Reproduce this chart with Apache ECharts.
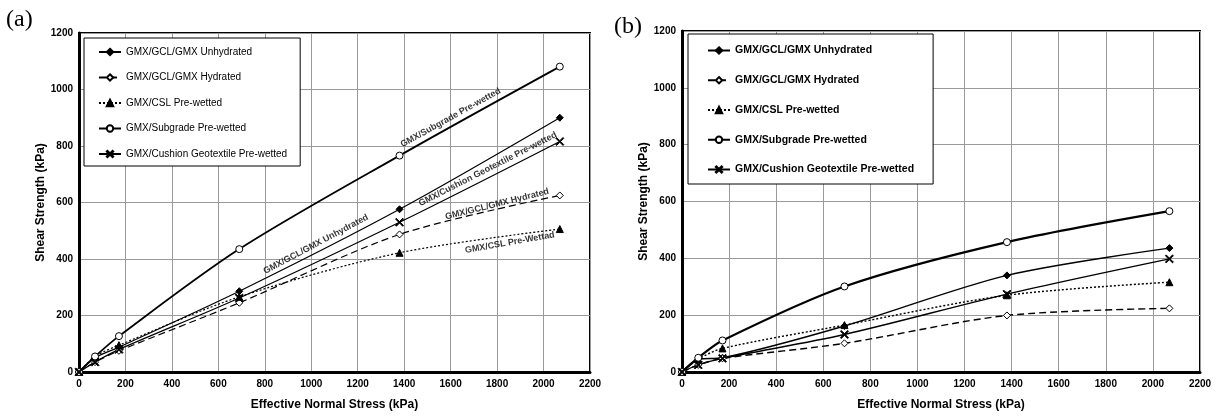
<!DOCTYPE html>
<html><head><meta charset="utf-8">
<script src="https://cdn.jsdelivr.net/npm/echarts@6/dist/echarts.min.js"></script>
<style>html,body{margin:0;padding:0;background:#fff}#c{width:1216px;height:416px}</style>
</head><body><div id="c"></div>
<script>
// ---- data ----
const seriesNames = ['GMX/GCL/GMX Unhydrated','GMX/GCL/GMX Hydrated','GMX/CSL Pre-wetted','GMX/Subgrade Pre-wetted','GMX/Cushion Geotextile Pre-wetted'];
const normalStress = [0, 69, 172, 690, 1380, 2070];
// panel (a)
const aUnhydrated = [0, 50, 88, 286, 576, 900];
const aHydrated   = [0, 35, 75, 245, 487, 625];
const aCSL        = [0, 55, 95, 266, 422, 506];
const aSubgrade   = [0, 55, 127, 435, 766, 1081];
const aCushion    = [0, 35, 80, 262, 530, 816];
// panel (b)
const bUnhydrated = [0, 45, 50, 162, 340, 436];
const bHydrated   = [0, 25, 48, 101, 199, 224];
const bCSL        = [0, 45, 83, 165, 270, 316];
const bSubgrade   = [0, 50, 111, 301, 457, 566];
const bCushion    = [0, 25, 48, 132, 274, 398];
const xTicks = [0,200,400,600,800,1000,1200,1400,1600,1800,2000,2200];
const yTicks = [0,200,400,600,800,1000,1200];
// annotations for panel (a): [text, x, y, angle]
const annoText  = ['GMX/Subgrade Pre-wetted','GMX/Cushion Geotextile Pre-wetted','GMX/GCL/GMX Unhydrated','GMX/GCL/GMX Hydrated','GMX/CSL Pre-Wettad'];
const annoX     = [1600, 1760, 1020, 1800, 1855];
const annoY     = [900, 718, 452, 594, 458];
const annoAngle = [29, 27, 28, 14, 10];

const FONT = 'Liberation Sans, Arial, sans-serif';
const X_PATH = 'path://M0,1L1,0L5,4L9,0L10,1L6,5L10,9L9,10L5,6L1,10L0,9L4,5Z';
const styles = [
  {symbol:'diamond', fill:'#000', type:'solid', w:1.2, size:7},
  {symbol:'diamond', fill:'#fff', type:[7,4], w:1.2, size:7},
  {symbol:'triangle', fill:'#000', type:[2,2], w:1.2, size:7},
  {symbol:'circle', fill:'#fff', type:'solid', w:1.8, size:7},
  {symbol:X_PATH, fill:'#000', type:'solid', w:1.2, size:8}
];
const dataA = [aUnhydrated,aHydrated,aCSL,aSubgrade,aCushion];
const dataB = [bUnhydrated,bHydrated,bCSL,bSubgrade,bCushion];

function mk(vals, i, gi, wb){
  const s = styles[i];
  return {
    type:'line', name:seriesNames[i], xAxisIndex:gi, yAxisIndex:gi,
    data: normalStress.map((x,k)=>[x, vals[k]]),
    smooth:0.3, symbol:s.symbol, symbolSize:s.size, showAllSymbol:true,
    lineStyle:{color:'#000', width:s.w*wb, type:s.type},
    itemStyle:{color:s.fill, borderColor:'#000', borderWidth:1},
    emphasis:{disabled:true}, z:3
  };
}
const series = [];
dataA.forEach((v,i)=>series.push(mk(v,i,0,1)));
dataB.forEach((v,i)=>series.push(mk(v,i,1,1.2)));
series.push({
  type:'scatter', name:'anno', xAxisIndex:0, yAxisIndex:0, symbolSize:1, silent:true,
  itemStyle:{color:'rgba(0,0,0,0)'},
  data: annoText.map((t,i)=>({value:[annoX[i], annoY[i]], name:t, label:{rotate:annoAngle[i]}})),
  label:{show:true, position:'inside', formatter:p=>p.name, fontFamily:FONT, fontWeight:'bold', fontSize:9, color:'#000'},
  z:5
});

function xAx(gi){
  return {type:'value', gridIndex:gi, min:0, max:2200, interval:200,
    name:'Effective Normal Stress (kPa)', nameLocation:'middle', nameGap:27,
    nameTextStyle:{fontFamily:FONT, fontWeight:'bold', fontSize:12, color:'#000'},
    axisLine:{show:true, onZero:false, lineStyle:{color:'#000', width:3}},
    axisTick:{show:false},
    axisLabel:{fontFamily:FONT, fontWeight:'bold', fontSize:10, color:'#000', margin:7,
      formatter:v=>xTicks.includes(v)?String(v):''},
    splitLine:{show:true, lineStyle:{color:'#9a9a9a', width:1}}};
}
function yAx(gi){
  return {type:'value', gridIndex:gi, min:0, max:1200, interval:200,
    name:'Shear Strength (kPa)', nameLocation:'middle', nameGap:32,
    nameTextStyle:{fontFamily:FONT, fontWeight:'bold', fontSize:12, color:'#000'},
    axisLine:{show:true, onZero:false, lineStyle:{color:'#000', width:3}},
    axisTick:{show:false},
    axisLabel:{fontFamily:FONT, fontWeight:'bold', fontSize:10, color:'#000', margin:6,
      formatter:v=>yTicks.includes(v)?String(v):''},
    splitLine:{show:true, lineStyle:{color:'#9a9a9a', width:1}}};
}

const chart = echarts.init(document.getElementById('c'), null, {renderer:'canvas'});
chart.setOption({
  backgroundColor:'#fff',
  animation:false,
  grid:[
    {left:79, top:33, width:511, height:343, show:true, borderColor:'#000', borderWidth:2, backgroundColor:'transparent'},
    {left:682, top:31, width:518, height:346, show:true, borderColor:'#000', borderWidth:2, backgroundColor:'transparent'}
  ],
  xAxis:[xAx(0), xAx(1)],
  yAxis:[yAx(0), yAx(1)],
  legend:[
    {left:84, top:38, orient:'vertical', data:seriesNames, itemWidth:22, itemHeight:8, itemGap:15.5,
     padding:[9,13,7,14], borderColor:'#000', borderWidth:1, backgroundColor:'#fff',
     textStyle:{fontFamily:FONT, fontSize:10, color:'#000'}, selectedMode:false},
    {left:688, top:34, orient:'vertical', data:seriesNames, itemWidth:22, itemHeight:8, itemGap:18.75,
     padding:[11,19,9,19], borderColor:'#000', borderWidth:1, backgroundColor:'#fff',
     textStyle:{fontFamily:FONT, fontSize:10.5, fontWeight:'bold', color:'#000'}, selectedMode:false}
  ],
  graphic:[
    {type:'text', left:6, top:8, style:{text:'(a)', font:'24px "Liberation Serif", serif', fill:'#000'}},
    {type:'text', left:614, top:15, style:{text:'(b)', font:'24px "Liberation Serif", serif', fill:'#000'}}
  ],
  series: series
});
</script></body></html>
